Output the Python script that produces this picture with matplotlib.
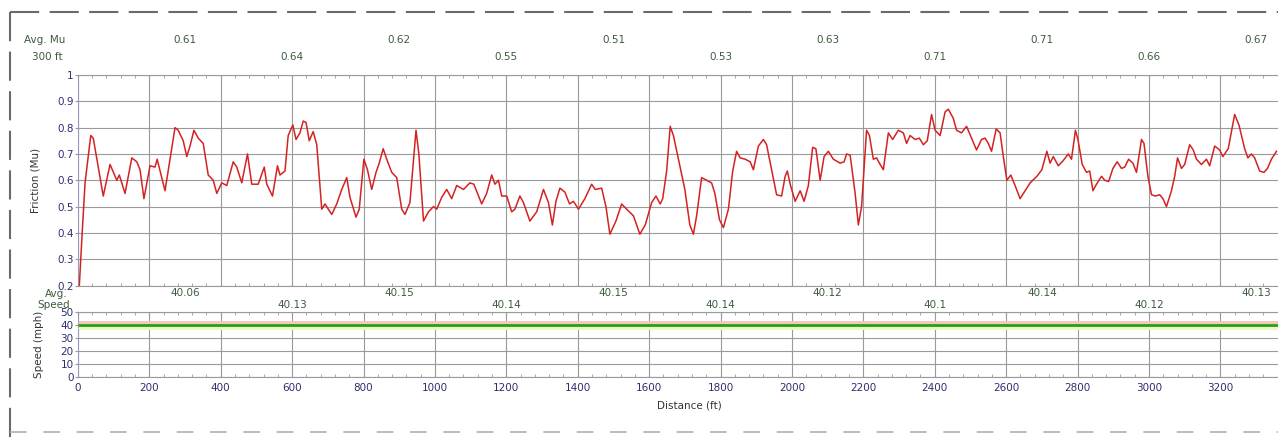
import matplotlib
matplotlib.use('Agg')
import matplotlib.pyplot as plt
from matplotlib.lines import Line2D
from matplotlib.ticker import MultipleLocator
import matplotlib.transforms as mtransforms

# friction trace (distance in ft, friction Mu)
dist_ft = [4, 12, 20, 36, 43, 66, 71, 90, 109, 116, 132, 151, 165, 174, 185, 202, 216, 222, 244, 272,
           281, 295, 305, 314, 325, 337, 351, 365, 379, 389, 403, 417, 435, 445, 459, 475, 487, 505, 522, 529,
           545, 559, 566, 580, 589, 602, 611, 622, 631, 639, 648, 659, 669, 683, 692, 711, 725, 739, 753, 762,
           779, 788, 801, 811, 823, 835, 844, 855, 865, 879, 893, 907, 916, 930, 947, 955, 968, 982, 996, 1005,
           1019, 1033, 1047, 1061, 1080, 1098, 1109, 1131, 1145, 1159, 1168, 1178, 1187, 1201, 1215, 1224, 1238, 1248, 1266, 1285,
           1304, 1318, 1329, 1339, 1350, 1364, 1377, 1388, 1402, 1420, 1439, 1449, 1467, 1479, 1490, 1507, 1523, 1537, 1556, 1574,
           1589, 1607, 1619, 1631, 1638, 1649, 1659, 1668, 1682, 1700, 1714, 1724, 1733, 1747, 1761, 1775, 1784, 1797, 1808, 1822,
           1834, 1845, 1855, 1869, 1883, 1892, 1906, 1920, 1929, 1943, 1957, 1971, 1981, 1987, 1996, 2009, 2023, 2034, 2046, 2058,
           2067, 2079, 2090, 2102, 2116, 2135, 2146, 2153, 2163, 2177, 2186, 2195, 2209, 2217, 2228, 2237, 2247, 2256, 2270, 2282,
           2298, 2312, 2321, 2331, 2345, 2357, 2368, 2379, 2391, 2401, 2415, 2429, 2438, 2452, 2461, 2475, 2489, 2503, 2517, 2531,
           2541, 2550, 2559, 2572, 2583, 2592, 2602, 2613, 2625, 2639, 2653, 2667, 2686, 2700, 2714, 2723, 2732, 2746, 2760, 2774,
           2783, 2794, 2801, 2813, 2825, 2834, 2843, 2853, 2867, 2876, 2887, 2899, 2911, 2923, 2932, 2943, 2955, 2965, 2979, 2986,
           2997, 3007, 3018, 3030, 3039, 3049, 3063, 3072, 3080, 3091, 3100, 3114, 3124, 3133, 3147, 3161, 3170, 3184, 3198, 3207,
           3222, 3231, 3240, 3252, 3261, 3268, 3277, 3287, 3296, 3310, 3322, 3332, 3343, 3357]
friction = [0.20, 0.40, 0.59, 0.77, 0.76, 0.58, 0.54, 0.66, 0.60, 0.62, 0.55, 0.685, 0.67, 0.64, 0.53, 0.655, 0.65, 0.68, 0.56, 0.80,
            0.79, 0.75, 0.69, 0.73, 0.79, 0.76, 0.74, 0.62, 0.60, 0.55, 0.59, 0.58, 0.67, 0.65, 0.59, 0.70, 0.585, 0.585, 0.65, 0.585,
            0.54, 0.655, 0.62, 0.635, 0.77, 0.81, 0.755, 0.78, 0.825, 0.82, 0.75, 0.785, 0.735, 0.49, 0.51, 0.47, 0.51, 0.565, 0.61, 0.535,
            0.46, 0.49, 0.68, 0.64, 0.565, 0.63, 0.665, 0.72, 0.68, 0.63, 0.61, 0.49, 0.47, 0.515, 0.79, 0.70, 0.445, 0.48, 0.50, 0.49,
            0.535, 0.565, 0.53, 0.58, 0.565, 0.59, 0.585, 0.51, 0.55, 0.62, 0.585, 0.60, 0.54, 0.54, 0.48, 0.49, 0.54, 0.515, 0.445, 0.48,
            0.565, 0.515, 0.43, 0.52, 0.57, 0.555, 0.51, 0.52, 0.49, 0.53, 0.585, 0.565, 0.57, 0.50, 0.395, 0.445, 0.51, 0.49, 0.465, 0.395,
            0.43, 0.515, 0.54, 0.51, 0.53, 0.635, 0.805, 0.77, 0.68, 0.565, 0.43, 0.395, 0.465, 0.61, 0.60, 0.59, 0.55, 0.45, 0.42, 0.49,
            0.635, 0.71, 0.685, 0.68, 0.67, 0.64, 0.73, 0.755, 0.735, 0.64, 0.545, 0.54, 0.615, 0.635, 0.58, 0.52, 0.56, 0.52, 0.58, 0.725,
            0.72, 0.60, 0.69, 0.71, 0.68, 0.665, 0.67, 0.70, 0.695, 0.55, 0.43, 0.50, 0.79, 0.77, 0.68, 0.685, 0.66, 0.64, 0.78, 0.755,
            0.79, 0.78, 0.74, 0.77, 0.755, 0.76, 0.735, 0.75, 0.85, 0.79, 0.77, 0.86, 0.87, 0.835, 0.79, 0.78, 0.805, 0.76, 0.715, 0.755,
            0.76, 0.74, 0.71, 0.795, 0.78, 0.69, 0.60, 0.62, 0.58, 0.53, 0.56, 0.59, 0.615, 0.64, 0.71, 0.665, 0.69, 0.655, 0.675, 0.70,
            0.68, 0.79, 0.755, 0.66, 0.63, 0.635, 0.56, 0.585, 0.615, 0.60, 0.595, 0.645, 0.67, 0.645, 0.65, 0.68, 0.665, 0.63, 0.755, 0.74,
            0.615, 0.545, 0.54, 0.545, 0.53, 0.50, 0.56, 0.615, 0.685, 0.645, 0.66, 0.735, 0.715, 0.68, 0.66, 0.68, 0.655, 0.73, 0.715, 0.69,
            0.72, 0.785, 0.85, 0.81, 0.76, 0.72, 0.685, 0.70, 0.685, 0.635, 0.63, 0.645, 0.68, 0.71]

# 300 ft segment averages
seg_ft = [300, 600, 900, 1200, 1500, 1800, 2100, 2400, 2700, 3000, 3300]
avg_mu = ['0.61', '0.64', '0.62', '0.55', '0.51', '0.53', '0.63', '0.71', '0.71', '0.66', '0.67']
avg_speed = ['40.06', '40.13', '40.15', '40.14', '40.15', '40.14', '40.12', '40.1', '40.14', '40.12', '40.13']

speed_range = [0, 3423]
speed_mph = [40, 40]
dist_ticks = list(range(0, 3201, 200))

W, H = 1278, 437
fig = plt.figure(figsize=(W / 100, H / 100), dpi=100)
fig.patch.set_facecolor('white')

tick_col = '#2e2e70'
avg_col = '#3e5a3e'
grid_col = '#9a9a9a'
x0 = 77.9 / W
wdt = (1300 - 77.9) / W

ax1 = fig.add_axes([x0, 1 - 285.5 / H, wdt, (285.5 - 75) / H])
ax2 = fig.add_axes([x0, 1 - 377 / H, wdt, (377 - 312) / H])

# friction
ax1.plot(dist_ft, friction, color='#d42222', lw=1.1)
ax1.set_xlim(0, 3423)
ax1.set_ylim(0.2, 1.0)
ax1.set_yticks([0.2, 0.3, 0.4, 0.5, 0.6, 0.7, 0.8, 0.9, 1.0])
ax1.set_yticklabels(['0.2', '0.3', '0.4', '0.5', '0.6', '0.7', '0.8', '0.9', '1'])
ax1.set_ylabel('Friction (Mu)', fontsize=7.5, color='#333333', labelpad=12)

# speed
ax2.fill_between(speed_range, [40.4, 40.4], [43, 43], color='#f6c8b8', lw=0)
ax2.fill_between(speed_range, [36, 36], [39.6, 39.6], color='#eef8b8', lw=0)
ax2.plot(speed_range, speed_mph, color='#20a020', lw=2.0)
ax2.set_xlim(0, 3423)
ax2.set_ylim(0, 50)
ax2.set_yticks([0, 10, 20, 30, 40, 50])
ax2.set_ylabel('Speed (mph)', fontsize=7.5, color='#333333', labelpad=12)
ax2.set_xlabel('Distance (ft)', fontsize=7.5, color='#333333', labelpad=6)

for ax in (ax1, ax2):
    ax.set_xticks(dist_ticks)
    ax.xaxis.set_minor_locator(MultipleLocator(40))
    ax.grid(True, which='major', color=grid_col, lw=0.8)
    ax.set_axisbelow(True)
    ax.tick_params(axis='y', labelsize=7.5, labelcolor=tick_col, length=2, pad=1, color=grid_col)
    ax.tick_params(axis='x', which='both', direction='in', top=True, bottom=True, color=grid_col, length=2)
    ax.spines['right'].set_visible(False)
    ax.spines['top'].set_color(grid_col)
    ax.spines['bottom'].set_color(grid_col)
    ax.spines['left'].set_color('#9898c8')
    ax.spines['left'].set_linestyle(':')

ax1.tick_params(axis='x', labelbottom=False)
ax2.tick_params(axis='x', labelsize=7.5, labelcolor=tick_col, pad=4)

# segment averages above each panel
tr1 = mtransforms.blended_transform_factory(ax1.transData, fig.transFigure)
for i in range(len(seg_ft)):
    yy = 40 if i % 2 == 0 else 57
    ax1.text(seg_ft[i], 1 - yy / H, avg_mu[i], transform=tr1, ha='center', va='center',
             fontsize=7.5, color=avg_col, clip_on=False)
    ys = 293 if i % 2 == 0 else 305
    ax1.text(seg_ft[i], 1 - ys / H, avg_speed[i], transform=tr1, ha='center', va='center',
             fontsize=7.5, color=avg_col, clip_on=False)

fig.text(45 / W, 1 - 40 / H, 'Avg. Mu', fontsize=7.5, color=avg_col, ha='center', va='center')
fig.text(47 / W, 1 - 57 / H, '300 ft', fontsize=7.5, color=avg_col, ha='center', va='center')
fig.text(56 / W, 1 - 294 / H, 'Avg.', fontsize=7.5, color=avg_col, ha='center', va='center')
fig.text(54 / W, 1 - 305 / H, 'Speed', fontsize=7.5, color=avg_col, ha='center', va='center')

# dashed frame around the screenshot
dash = (0, (14, 5))
fig.add_artist(Line2D([10 / W, 1], [1 - 12 / H, 1 - 12 / H], color='#6a6a6a', lw=1.5, linestyle=dash))
fig.add_artist(Line2D([10 / W, 10 / W], [1 - 12 / H, 0], color='#6a6a6a', lw=1.5, linestyle=dash))
fig.add_artist(Line2D([10 / W, 1], [1 - 432 / H, 1 - 432 / H], color='#b0b0b0', lw=1.2, linestyle=(0, (10, 10))))

fig.savefig('out.png', dpi=100)
